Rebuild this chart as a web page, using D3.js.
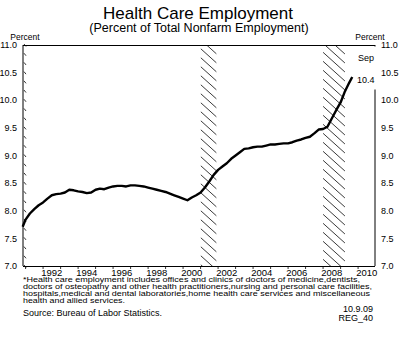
<!DOCTYPE html>
<html><head><meta charset="utf-8">
<script src="https://cdn.jsdelivr.net/npm/d3@7"></script>
<style>
html,body{margin:0;padding:0;background:#fff;}
svg{display:block;font-family:"Liberation Sans",Arial,sans-serif;}
</style></head>
<body>
<script>
// ---- data ----
const months = ["1990-11","1991-01","1991-04","1991-07","1991-10","1992-01","1992-04","1992-07","1992-10",
"1993-01","1993-04","1993-07","1993-10","1994-01","1994-04","1994-07","1994-10",
"1995-01","1995-04","1995-07","1995-10","1996-01","1996-04","1996-07","1996-10",
"1997-01","1997-04","1997-07","1997-10","1998-01","1998-04","1998-07","1998-10",
"1999-01","1999-04","1999-07","1999-10","2000-01","2000-04","2000-07","2000-10",
"2001-01","2001-04","2001-07","2001-10","2002-01","2002-04","2002-07","2002-10",
"2003-01","2003-04","2003-07","2003-10","2004-01","2004-04","2004-07","2004-10",
"2005-01","2005-04","2005-07","2005-10","2006-01","2006-04","2006-07","2006-10",
"2007-01","2007-04","2007-07","2007-10","2008-01","2008-04","2008-07","2008-10",
"2009-01","2009-04","2009-07","2009-09"];
const shares = [7.71,7.84,7.95,8.03,8.10,8.15,8.22,8.28,8.30,
8.31,8.33,8.38,8.37,8.35,8.34,8.32,8.33,
8.38,8.40,8.39,8.42,8.44,8.45,8.45,8.44,
8.46,8.46,8.45,8.44,8.42,8.40,8.38,8.36,
8.34,8.31,8.28,8.25,8.22,8.19,8.24,8.28,
8.33,8.42,8.53,8.65,8.74,8.80,8.86,8.94,
9.00,9.06,9.12,9.13,9.15,9.16,9.16,9.18,
9.20,9.20,9.21,9.22,9.22,9.24,9.27,9.29,
9.32,9.34,9.40,9.47,9.48,9.52,9.67,9.82,
9.96,10.16,10.32,10.42];
const recessionStart = ["2001-01","2008-01"];
const recessionEnd   = ["2001-12","2009-04"];
const yearLabels = ["1992","1994","1996","1998","2000","2002","2004","2006","2008","2010"];
const yTickLabels = ["7.0","7.5","8.0","8.5","9.0","9.5","10.0","10.5","11.0"];
const lastLabel = ["Sep","10.4"];
const titleText = "Health Care Employment";
const subtitleText = "(Percent of Total Nonfarm Employment)";
const footnote = ["*Health care employment includes offices and clinics of doctors of medicine,dentists,",
"doctors of osteopathy and other health practitioners,nursing and personal care facilities,",
"hospitals,medical and dental laboratories,home health care services and miscellaneous",
"health and allied services."];
const sourceText = "Source: Bureau of Labor Statistics.";
const stamp = ["10.9.09","REG_40"];

// ---- layout ----
const W = 406, H = 338;
const L = 23, R = 375, T = 45, B = 266;
const parse = d3.timeParse("%Y-%m");
const x = d3.scaleTime().domain([new Date(1990,10,8), new Date(2010,11,20)]).range([L, R]);
const y = d3.scaleLinear().domain([7, 11]).range([B, T]);

const svg = d3.select("body").append("svg").attr("width", W).attr("height", H);

// recession hatching
const defs = svg.append("defs");
recessionStart.forEach((s, i) => {
  const x0 = x(parse(s)), x1 = x(parse(recessionEnd[i]));
  defs.append("clipPath").attr("id", "rc" + i).append("rect")
    .attr("x", x0).attr("y", T).attr("width", x1 - x0).attr("height", B - T);
  const g = svg.append("g").attr("clip-path", `url(#rc${i})`);
  const w = x1 - x0, slope = 0.9, step = 9;
  for (let yy = T - w * slope - step; yy < B + step; yy += step) {
    g.append("line").attr("x1", x0).attr("y1", yy).attr("x2", x1).attr("y2", yy + w * slope)
      .attr("stroke", "#3a3a3a").attr("stroke-width", 1);
  }
});

// frame
svg.append("line").attr("x1", L).attr("x2", L).attr("y1", T).attr("y2", B).attr("stroke", "#000");
svg.append("line").attr("x1", R).attr("x2", R).attr("y1", T).attr("y2", B).attr("stroke", "#000");
svg.append("line").attr("x1", L).attr("x2", R).attr("y1", T + 0.5).attr("y2", T + 0.5).attr("stroke", "#000");
svg.append("line").attr("x1", L).attr("x2", R).attr("y1", B + 0.5).attr("y2", B + 0.5).attr("stroke", "#000");

// left minor ticks (3 per half unit)
d3.range(0, 25).forEach(i => {
  const v = 7 + i / 6, yy = y(v);
  svg.append("line").attr("x1", L + 1).attr("y1", yy - 1).attr("x2", L + 3).attr("y2", yy + 1.5)
    .attr("stroke", "#000").attr("stroke-width", 0.8);
});

// x ticks at each Jan
d3.range(1991, 2011).forEach(yr => {
  const xx = x(new Date(yr, 0, 1));
  svg.append("line").attr("x1", xx).attr("x2", xx).attr("y1", B).attr("y2", B + 3)
    .attr("stroke", "#000").attr("stroke-width", 0.8);
});

// line
const data = months.map((m, i) => ({d: parse(m), v: shares[i]}));
svg.append("path").datum(data)
  .attr("d", d3.line().x(d => x(d.d)).y(d => y(d.v)))
  .attr("fill", "none").attr("stroke", "#000").attr("stroke-width", 2.4).attr("stroke-linejoin", "round");

// label box covering right frame
svg.append("rect").attr("x", 355).attr("y", T + 1.5).attr("width", 23).attr("height", 43).attr("fill", "#fff");
svg.append("text").attr("x", 358).attr("y", 61).attr("font-size", 9).text(lastLabel[0]);
svg.append("text").attr("x", 357).attr("y", 83).attr("font-size", 9).text(lastLabel[1]);

// y labels
yTickLabels.forEach(t => {
  const yy = y(+t) + 3.2;
  svg.append("text").attr("x", 17).attr("y", yy).attr("text-anchor", "end").attr("font-size", 9).text(t);
  svg.append("text").attr("x", 381).attr("y", yy).attr("font-size", 9).text(t);
});
svg.append("text").attr("x", 25).attr("y", 40).attr("text-anchor", "middle").attr("font-size", 8.5).text("Percent");
svg.append("text").attr("x", 370).attr("y", 40).attr("text-anchor", "middle").attr("font-size", 8.5).text("Percent");

// year labels
yearLabels.forEach(t => {
  svg.append("text").attr("x", x(new Date(+t, 6, 1))).attr("y", 275.5).attr("text-anchor", "middle")
    .attr("font-size", 9.5).text(t);
});

// titles
svg.append("text").attr("x", 198).attr("y", 18.5).attr("text-anchor", "middle").attr("font-size", 17).text(titleText);
svg.append("text").attr("x", 199).attr("y", 32).attr("text-anchor", "middle").attr("font-size", 12.5).text(subtitleText);

// footnote
const fnW = [337, 349, 347, 102];
footnote.forEach((t, i) => {
  svg.append("text").attr("x", L).attr("y", 282 + i * 7.1).attr("font-size", 7)
    .attr("textLength", fnW[i]).attr("lengthAdjust", "spacingAndGlyphs").text(t);
});
svg.append("text").attr("x", L).attr("y", 316).attr("font-size", 9).text(sourceText);
svg.append("text").attr("x", 373).attr("y", 312).attr("text-anchor", "end").attr("font-size", 9).text(stamp[0]);
svg.append("text").attr("x", 373).attr("y", 321).attr("text-anchor", "end").attr("font-size", 9).text(stamp[1]);
</script>
</body></html>
